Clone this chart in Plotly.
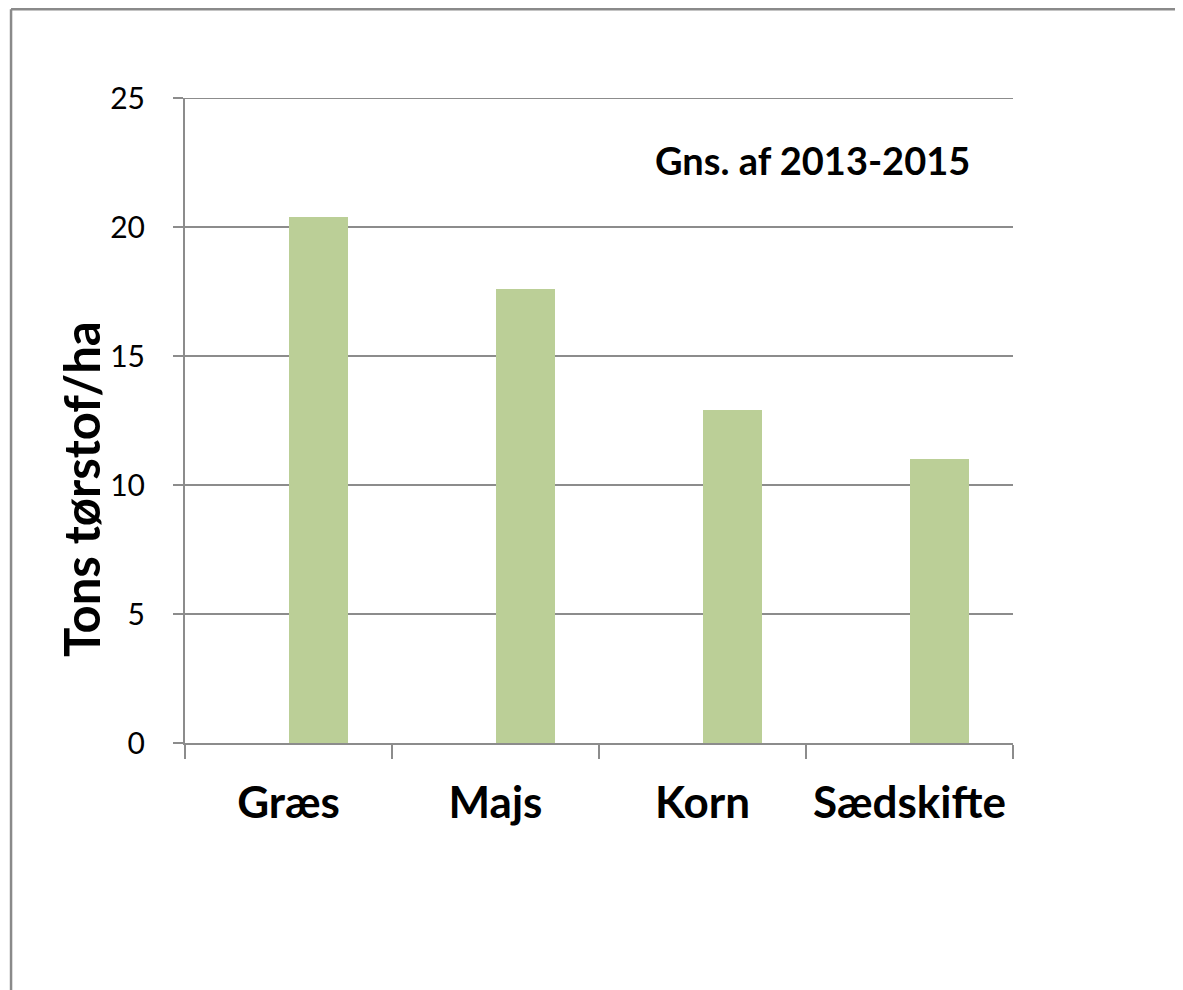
import plotly.graph_objects as go

categories = ["Græs", "Majs", "Korn", "Sædskifte"]
values = [20.4, 17.6, 12.9, 11.0]
y_ticks = [0, 5, 10, 15, 20, 25]

grid_col = "#8c8c8c"
font_name = "Lato"

fig = go.Figure()
fig.add_bar(
    x=categories, y=values,
    width=0.285, offset=0.0,
    marker=dict(color="#BBCF97", line=dict(width=0)),
    showlegend=False,
)

# page body has an 8px margin, so the figure is a bit smaller than the window
fig.update_layout(
    width=1175, height=982,
    margin=dict(l=177, r=170, t=90, b=247),
    paper_bgcolor="white", plot_bgcolor="white",
    font=dict(family=font_name, color="black"),
    bargap=0,
)

fig.update_xaxes(
    type="category",
    showgrid=False,
    showline=True, linecolor=grid_col, linewidth=2,
    ticks="outside", tickson="boundaries", ticklen=14,
    tickcolor=grid_col, tickwidth=2,
    tickfont=dict(size=44, family=font_name, weight="bold"),
    ticklabelstandoff=20,
)
fig.update_yaxes(
    range=[0, 25], tickvals=y_ticks,
    showgrid=True, gridcolor=grid_col, gridwidth=2,
    showline=True, linecolor=grid_col, linewidth=2,
    ticks="outside", ticklen=10, tickcolor=grid_col, tickwidth=2,
    tickfont=dict(size=30, family=font_name),
    ticklabelstandoff=22,
    zeroline=False,
)

# plotly drops the gridline at the top edge, so draw it
fig.add_shape(type="line", xref="paper", yref="y", x0=0, x1=1,
              y0=y_ticks[-1], y1=y_ticks[-1], layer="below",
              line=dict(color=grid_col, width=2))

# y axis title placed like the original (offset below plot centre)
fig.add_annotation(
    text="<b>Tons tørstof/ha</b>", textangle=-90,
    xref="paper", yref="paper", x=-0.1255, y=0.394,
    xanchor="center", yanchor="middle",
    showarrow=False, font=dict(size=49, family=font_name),
)
fig.add_annotation(
    text="<b>Gns. af 2013-2015</b>",
    xref="paper", yref="paper", x=0.9505, y=0.904,
    xanchor="right", yanchor="middle",
    showarrow=False, font=dict(size=38, family=font_name),
)

# outer chart border (left and top visible)
bx, by = -0.2101, 1.1375
fig.add_shape(type="line", xref="paper", yref="paper", x0=bx, x1=bx, y0=-1, y1=by,
              line=dict(color="#8a8a8a", width=2.5))
fig.add_shape(type="line", xref="paper", yref="paper", x0=bx, x1=2, y0=by, y1=by,
              line=dict(color="#8a8a8a", width=2.5))

fig.write_html("out.html")
